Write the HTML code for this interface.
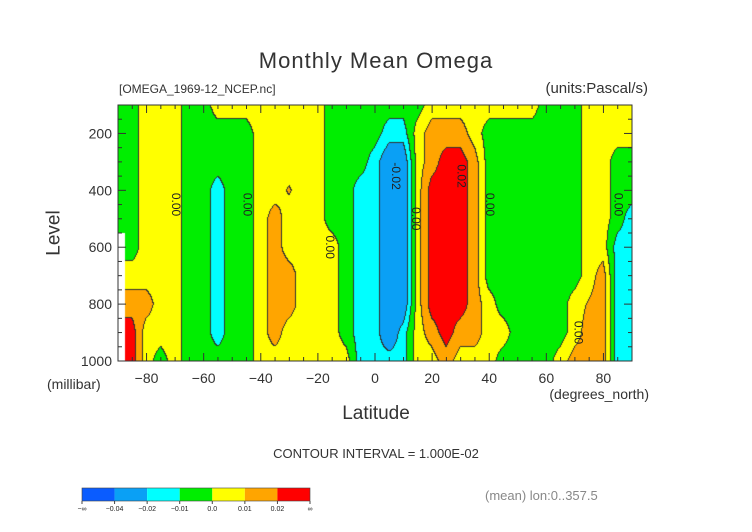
<!DOCTYPE html>
<html><head><meta charset="utf-8">
<style>
body{margin:0;background:#fff;}
#wrap{position:relative;width:752px;height:532px;overflow:hidden;font-family:"Liberation Sans",sans-serif;color:#222;}
.t{position:absolute;white-space:nowrap;}
canvas{position:absolute;left:0;top:0;}
</style></head><body>
<div id="wrap">
<canvas id="cv" width="752" height="532"></canvas>
<svg id="ov" width="752" height="532" style="position:absolute;left:0;top:0"></svg>
<div class="t" style="left:0;width:752px;text-align:center;top:48px;font-size:22px;letter-spacing:1px;color:#333">Monthly Mean Omega</div>
<div class="t" style="left:119px;top:82px;font-size:12px;color:#333">[OMEGA_1969-12_NCEP.nc]</div>
<div class="t" style="right:104px;top:80px;font-size:15px;color:#333">(units:Pascal/s)</div>
<div class="t" style="left:32px;top:222px;font-size:19px;transform:rotate(-90deg);transform-origin:center;color:#333">Level</div>
<div class="t" style="left:47px;top:376px;font-size:14px;color:#333">(millibar)</div>
<div class="t" style="right:103px;top:386px;font-size:14px;color:#333">(degrees_north)</div>
<div class="t" style="left:0;width:752px;text-align:center;top:403px;font-size:19px;color:#333">Latitude</div>
<div class="t" style="left:0;width:752px;text-align:center;top:446px;font-size:13px;color:#333">CONTOUR INTERVAL = 1.000E-02</div>
<div class="t" style="left:485px;top:488px;font-size:13px;color:#888">(mean) lon:0..357.5</div>
</div>
<script>
// latitude columns (deg) and pressure levels (mb)
const lats=[-90,-85,-80,-75,-70,-65,-60,-55,-50,-45,-40,-35,-30,-25,-20,-15,-10,-5,0,5,10,15,20,25,30,35,40,45,50,55,60,65,70,75,80,85,90];
const levels=[100,200,300,400,500,600,700,800,900,1000];
// omega values in 0.001 Pa/s, one profile per latitude (top->bottom)
const omega=[
[-5,-5,-5,-5,-5,null,null,null,null,null],
[-5,-5,-5,-5,-5,-5,5,15,25,25],
[5,5,5,5,5,5,5,15,5,5],
[5,5,5,5,5,5,5,5,5,-5],
[5,5,5,5,5,5,5,5,5,5],
[-5,-5,-5,-5,-5,-5,-5,-5,-5,-5],
[-5,-5,-5,-5,-5,-5,-5,-5,-5,-5],
[5,-5,-5,-15,-15,-15,-15,-15,-15,-5],
[5,-5,-5,-5,-5,-5,-5,-5,-5,-5],
[5,-5,-5,-5,-5,-5,-5,-5,-5,-5],
[5,5,5,5,5,5,5,5,5,5],
[5,5,5,5,15,15,15,15,15,5],
[5,5,5,11,5,5,15,15,5,5],
[5,5,5,5,5,5,5,5,5,5],
[5,5,5,5,5,5,5,5,5,5],
[-5,-5,-5,-5,-5,5,5,5,5,5],
[-5,-5,-5,-5,-5,-5,-5,-5,-5,5],
[-5,-5,-5,-15,-15,-15,-15,-15,-15,-15],
[-5,-5,-15,-15,-15,-15,-15,-15,-15,-15],
[-5,-15,-30,-30,-30,-30,-30,-30,-30,-15],
[-5,-15,-30,-30,-30,-30,-30,-30,-15,-15],
[-5,5,5,5,5,5,5,5,5,5],
[5,15,15,25,25,25,25,25,15,5],
[5,15,25,25,25,25,25,25,25,15],
[5,15,25,25,25,25,25,25,15,5],
[5,5,15,15,15,15,15,15,15,5],
[5,-5,-5,-5,-5,-5,-5,5,5,5],
[5,-5,-5,-5,-5,-5,-5,-5,5,-5],
[5,-5,-5,-5,-5,-5,-5,-5,-5,-5],
[5,-5,-5,-5,-5,-5,-5,-5,-5,-5],
[-5,-5,-5,-5,-5,-5,-5,-5,-5,-5],
[-5,-5,-5,-5,-5,-5,-5,-5,-5,5],
[-5,-5,-5,-5,-5,-5,-5,5,5,15],
[5,5,5,5,5,5,5,11,15,15],
[5,5,5,5,5,5,15,15,15,15],
[5,5,-5,-5,-5,-15,-15,-15,-15,-15],
[5,5,-5,-5,-15,-15,-15,-15,-15,-15]
];
const yTicks=[200,400,600,800,1000];
const xTicks=[-80,-60,-40,-20,0,20,40,60,80];
const cbLabels=["−∞","−0.04","−0.02","−0.01","0.0","0.01","0.02","∞"];
const cbColors=["#0a5cff","#0aa0f5","#00ffff","#00ee00","#ffff00","#ffa500","#ff0000"];
const bounds=[-40,-20,-10,0,10,20];
// contour labels: latitude, level, text
const clLats=[-70,-45,-16,14,40,85,-0.5*-0.0+7,30,71];
const clLevels=[450,450,600,500,450,450,350,350,900];
const clTexts=["0.00","0.00","0.00","0.00","0.00","0.00","-0.02","0.02","0.00"];

const X0=118,X1=632,Y0=105,Y1=361;
const xs=lat=>X0+(lat+90)/180*(X1-X0);
const ys=p=>Y0+(p-100)/900*(Y1-Y0);
const rgb=h=>[parseInt(h.substr(1,2),16),parseInt(h.substr(3,2),16),parseInt(h.substr(5,2),16)];
const cols=cbColors.map(rgb);
function bin(v){let b=0;while(b<bounds.length&&v>=bounds[b])b++;return b;}
function sample(lat,p){
  let i=Math.min(lats.length-2,Math.max(0,Math.floor((lat-lats[0])/5)));
  let j=Math.min(levels.length-2,Math.max(0,Math.floor((p-levels[0])/100)));
  const tx=Math.min(1,Math.max(0,(lat-lats[i])/(lats[i+1]-lats[i])));
  const ty=Math.min(1,Math.max(0,(p-levels[j])/(levels[j+1]-levels[j])));
  const a=omega[i][j],b=omega[i+1][j],c=omega[i][j+1],d=omega[i+1][j+1];
  if(a==null||b==null||c==null||d==null){
    const ni=tx<0.5?i:i+1,nj=ty<0.5?j:j+1;const v=omega[ni][nj];
    if(v==null)return null;
    return [a,b,c,d].filter(q=>q!=null).length?v:null;
  }
  return a*(1-tx)*(1-ty)+b*tx*(1-ty)+c*(1-tx)*ty+d*tx*ty;
}
const cv=document.getElementById('cv');const ctx=cv.getContext('2d');
const W=X1-X0,H=Y1-Y0;
const img=ctx.createImageData(W,H);
const B=[];
for(let py=0;py<H;py++){B.push([]);for(let px=0;px<W;px++){
  const lat=-90+(px+0.5)/W*180,p=100+(py+0.5)/H*900;
  const v=sample(lat,p);B[py].push(v==null?-1:bin(v));}}
for(let py=0;py<H;py++)for(let px=0;px<W;px++){
  const b=B[py][px];const k=(py*W+px)*4;let c=b<0?[255,255,255]:cols[b];
  const edge=(px+1<W&&B[py][px+1]!==b&&B[py][px+1]>=0&&b>=0)||(py+1<H&&B[py+1][px]!==b&&B[py+1][px]>=0&&b>=0);
  if(edge)c=[50,50,50];
  img.data[k]=c[0];img.data[k+1]=c[1];img.data[k+2]=c[2];img.data[k+3]=255;}
ctx.putImageData(img,X0,Y0);

const ns="http://www.w3.org/2000/svg";const svg=document.getElementById('ov');
function el(t,a,txt){const e=document.createElementNS(ns,t);for(const k in a)e.setAttribute(k,a[k]);if(txt!=null)e.textContent=txt;svg.appendChild(e);return e;}
clTexts.forEach((s,i)=>{const x=xs(clLats[i]),y=ys(clLevels[i]);
  const t=el('text',{x:x,y:y,'text-anchor':'middle','font-size':12,fill:'#222','font-family':'Liberation Sans',transform:'rotate(90 '+x+' '+y+')','dominant-baseline':'middle'},s);
  
  });
let fr=el('rect',{x:X0,y:Y0,width:W,height:H,fill:'none',stroke:'#333','stroke-width':1});


for(let p=100;p<=1000;p+=50){const L=(p%200===0)?8:4;
  el('line',{x1:X0,x2:X0+L,y1:ys(p),y2:ys(p),stroke:'#333'});el('line',{x1:X1,x2:X1-L,y1:ys(p),y2:ys(p),stroke:'#333'});}
for(let l=-90;l<=90;l+=5){const L=(l%20===0)?8:4;
  el('line',{x1:xs(l),x2:xs(l),y1:Y1,y2:Y1-L,stroke:'#333'});el('line',{x1:xs(l),x2:xs(l),y1:Y0,y2:Y0+L,stroke:'#333'});}
yTicks.forEach(p=>{const t=el('text',{x:112,y:ys(p)+5,'text-anchor':'end','font-size':14,fill:'#333','font-family':'Liberation Sans'},p);
  
  });
xTicks.forEach(l=>{const t=el('text',{x:xs(l),y:383,'text-anchor':'middle','font-size':14,fill:'#333','font-family':'Liberation Sans'},l<0?'−'+(-l):l);
  
  });
// colorbar
const cbx=82,cbw=228,cby=488,cbh=13,sw=cbw/cbColors.length;
cbColors.forEach((c,i)=>{const r=el('rect',{x:cbx+i*sw,y:cby,width:sw,height:cbh,fill:c});
  
  });
el('rect',{x:cbx,y:cby,width:cbw,height:cbh,fill:'none',stroke:'#444','stroke-width':0.6});
cbLabels.forEach((s,i)=>{el('line',{x1:cbx+i*sw,x2:cbx+i*sw,y1:cby+cbh,y2:cby+cbh+3,stroke:'#444'});
  const t=el('text',{x:cbx+i*sw,y:511,'text-anchor':'middle','font-size':7,fill:'#222','font-family':'Liberation Sans'},s);
  
  });
</script>
</body></html>
